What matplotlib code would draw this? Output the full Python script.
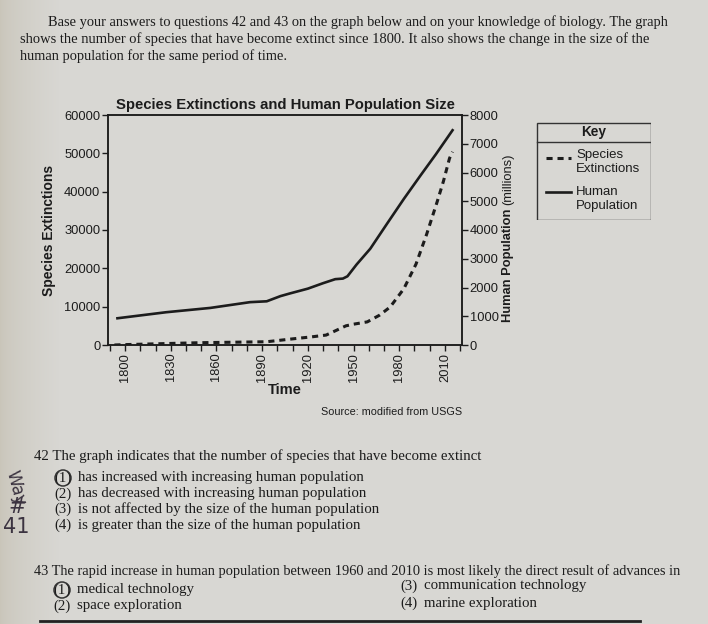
import matplotlib.pyplot as plt
from matplotlib.patches import Rectangle, Ellipse
import numpy as np

# human population (millions), right axis
pop_years = [1795, 1827, 1856, 1882, 1893, 1902, 1908, 1920, 1930, 1938, 1943,
             1946, 1952, 1961, 1972, 1983, 1994, 2004, 2015]
pop_values = [930, 1140, 1290, 1490, 1520, 1700, 1790, 1960, 2150, 2290, 2310,
              2390, 2800, 3350, 4220, 5080, 5900, 6630, 7470]

# species extinctions, left axis
ext_years = [1793, 1800, 1849, 1893, 1910, 1922, 1932, 1939, 1945, 1950, 1959,
             1967, 1974, 1983, 1991, 1998, 2005, 2009, 2013, 2015]
ext_values = [0, 100, 600, 850, 1600, 2100, 2590, 3880, 5000, 5430, 6030,
              7760, 9900, 14660, 21100, 28900, 37500, 42700, 48700, 50400]

year_ticks = [1800, 1830, 1860, 1890, 1920, 1950, 1980, 2010]
left_ticks = [0, 10000, 20000, 30000, 40000, 50000, 60000]
right_ticks = [0, 1000, 2000, 3000, 4000, 5000, 6000, 7000, 8000]

paragraph = [
    "Base your answers to questions 42 and 43 on the graph below and on your knowledge of biology. The graph",
    "shows the number of species that have become extinct since 1800. It also shows the change in the size of the",
    "human population for the same period of time.",
]
q42 = "42 The graph indicates that the number of species that have become extinct"
q42_opts = ["has increased with increasing human population",
            "has decreased with increasing human population",
            "is not affected by the size of the human population",
            "is greater than the size of the human population"]
q43 = "43 The rapid increase in human population between 1960 and 2010 is most likely the direct result of advances in"
q43_opts = ["medical technology", "space exploration",
            "communication technology", "marine exploration"]

W, H = 708, 624
bg = "#d8d7d3"
ink = "#1c1c1c"
sans = "Liberation Sans"
serif = "Liberation Serif"

fig = plt.figure(figsize=(W / 100, H / 100), dpi=100, facecolor=bg)

# page layer in pixel coordinates
page = fig.add_axes([0, 0, 1, 1])
page.set_xlim(0, W)
page.set_ylim(H, 0)
page.axis("off")

# darker, warmer edge of the photographed page on the left
shade = np.linspace(0, 1, 200) ** 0.6
grad = np.zeros((1, 200, 4))
grad[..., 0], grad[..., 1], grad[..., 2] = 0.74, 0.71, 0.64
grad[..., 3] = 0.55 * (1 - shade)
page.imshow(grad, extent=(0, 60, H, 0), aspect="auto", zorder=0)

ps = 10.35
page.text(48, 22, paragraph[0], family=serif, fontsize=ps, color=ink, va="center")
page.text(20, 39, paragraph[1], family=serif, fontsize=ps * 1.01, color=ink, va="center")
page.text(20, 56, paragraph[2], family=serif, fontsize=ps, color=ink, va="center")

qs = 10.7
page.text(34, 456, q42, family=serif, fontsize=qs, color=ink, va="center")
for i, t in enumerate(q42_opts):
    y = 478 + i * 15.8
    page.text(54, y, "(%d)" % (i + 1), family=serif, fontsize=qs, color=ink, va="center")
    page.text(78, y, t, family=serif, fontsize=qs, color=ink, va="center")
page.add_patch(Ellipse((63, 478), 16, 16, fill=False, ec="#333", lw=1.1))

page.text(34, 571, q43, family=serif, fontsize=10.4, color=ink, va="center")
page.text(53, 590, "(1)", family=serif, fontsize=qs, color=ink, va="center")
page.text(77, 590, q43_opts[0], family=serif, fontsize=qs, color=ink, va="center")
page.text(53, 606, "(2)", family=serif, fontsize=qs, color=ink, va="center")
page.text(77, 606, q43_opts[1], family=serif, fontsize=qs, color=ink, va="center")
page.text(400, 586, "(3)", family=serif, fontsize=qs, color=ink, va="center")
page.text(424, 586, q43_opts[2], family=serif, fontsize=qs, color=ink, va="center")
page.text(400, 603, "(4)", family=serif, fontsize=qs, color=ink, va="center")
page.text(424, 603, q43_opts[3], family=serif, fontsize=qs, color=ink, va="center")
page.add_patch(Ellipse((62, 590), 16, 16, fill=False, ec="#333", lw=1.1))
page.plot([40, 640], [621, 621], color="#222", lw=2)

# handwriting in the margin
hand = "#3b3340"
page.text(16, 488, "Way", fontsize=12, color=hand, rotation=-75,
          ha="center", va="center")
page.text(17, 507, "#", fontsize=15, color=hand, ha="center", va="center")
page.text(16, 527, "41", fontsize=15, color=hand, ha="center", va="center")

page.text(392, 412, "Source: modified from USGS", family=sans, fontsize=7.8,
          color=ink, ha="center", va="center")

# main chart
left, right, top, bottom = 108, 462, 115, 345
ax = fig.add_axes([left / W, 1 - bottom / H, (right - left) / W, (bottom - top) / H])
ax.patch.set_alpha(0)
ax2 = ax.twinx()

ax.plot(ext_years, ext_values, color=ink, lw=2.2, linestyle=(0, (2.0, 1.6)))
ax2.plot(pop_years, pop_values, color=ink, lw=1.9)

ax.set_xlim(1788.8, 2021.2)
ax.set_ylim(0, 60000)
ax2.set_ylim(0, 8000)

ax.set_xticks(year_ticks)
ax.set_xticks(np.arange(1790, 2021, 10), minor=True)
ax.set_xticklabels([str(y) for y in year_ticks], rotation=90)
ax.set_yticks(left_ticks)
ax2.set_yticks(right_ticks)

for a in (ax, ax2):
    for s in a.spines.values():
        s.set_color(ink)
        s.set_linewidth(1.1)
    a.tick_params(which="both", direction="out", length=4, width=1, color=ink,
                  labelsize=9.3, labelcolor=ink, pad=1.5)
    for lab in a.get_xticklabels() + a.get_yticklabels():
        lab.set_family(sans)

ax.set_xlabel("Time", family=sans, fontsize=10.5, fontweight="bold", color=ink, labelpad=1)
ax.set_ylabel("Species Extinctions", family=sans, fontsize=10, fontweight="bold",
              color=ink, labelpad=6)
ax.set_title("Species Extinctions and Human Population Size", family=sans,
             fontsize=10.7, fontweight="bold", color=ink, pad=4, x=0.5)

page.text(508, 322, "Human Population", family=sans, fontsize=9.3, fontweight="bold",
          color=ink, rotation=90, ha="center", va="bottom")
page.text(508, 205, "(millions)", family=sans, fontsize=9.3, color=ink,
          rotation=90, ha="center", va="bottom")

# key box
kx, ky, kw, kh = 536, 122, 115, 98
key = fig.add_axes([kx / W, 1 - (ky + kh) / H, kw / W, kh / H])
key.set_xlim(0, kw)
key.set_ylim(kh, 0)
key.axis("off")
key.add_patch(Rectangle((0.5, 0.5), kw - 1, kh - 1, fill=False, ec="#333", lw=1))
key.plot([0.5, kw - 0.5], [20, 20], color="#333", lw=1)
key.text(kw / 2, 10, "Key", family=sans, fontsize=9.8, fontweight="bold",
         color=ink, ha="center", va="center")
key.plot([10, 35], [36, 36], color=ink, lw=2.2, linestyle=(0, (2.0, 1.6)))
key.text(40, 33, "Species", family=sans, fontsize=9.5, color=ink, va="center")
key.text(40, 47, "Extinctions", family=sans, fontsize=9.5, color=ink, va="center")
key.plot([10, 35], [70, 70], color=ink, lw=1.9)
key.text(40, 70, "Human", family=sans, fontsize=9.5, color=ink, va="center")
key.text(40, 84, "Population", family=sans, fontsize=9.5, color=ink, va="center")

fig.savefig("out.png", dpi=100, facecolor=bg)
